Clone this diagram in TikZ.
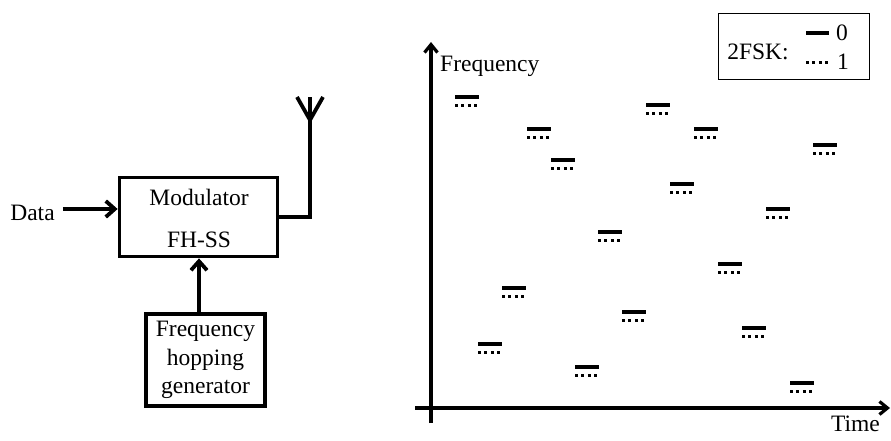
\documentclass[tikz,border=0pt]{standalone}
\usepackage{fontspec}
\setmainfont{Liberation Serif}
\usetikzlibrary{arrows.meta}
\begin{document}
\begin{tikzpicture}[x=1pt,y=-1pt,
  font=\fontsize{23.5}{27}\selectfont,
  txt/.style={inner sep=0pt},
  blk/.style={draw, line width=3.8pt, inner sep=0pt},
  conn/.style={line width=3.8pt, -{Straight Barb[length=9pt,width=16pt]}},
  wire/.style={line width=3.8pt},
  axis/.style={line width=3.2pt, -{Straight Barb[length=8pt,width=13pt]}},
  solidmark/.style={line width=3.4pt},
  dotmark/.style={line width=3pt, dash pattern=on 3pt off 3.4pt}]
\useasboundingbox (0,0) rectangle (891,441);
% left block diagram
\node[blk, minimum width=158pt, minimum height=79pt] (mod) at (198.5,217) {};
\node[txt] (modt) at (199,197) {Modulator};
\node[txt] (fhss) at (199,240) {FH-SS};
\node[txt] (data) at (32.5,213) {Data};
\draw[conn] (data.east) ++(8pt,4pt) coordinate (din) -- (din -| mod.west);
\node[blk, minimum width=119pt, minimum height=92pt] (gen) at (205.5,360) {};
\node[txt, align=center, font=\fontsize{23.5}{28.5}\selectfont] (gent) at (205.5,360) {Frequency\\hopping\\generator};
\draw[conn] ([xshift=-6.5pt]gen.north) -- ([xshift=-6.5pt]gen.north |- mod.south);
\coordinate (ant) at (310,120);
\draw[wire] (mod.east) -| (ant);
\draw[wire, line join=miter] (297,97) -- (ant) -- (323,97);
\draw[wire] (ant) -- (310,97);
% chart
\coordinate (o) at (431,408);
\draw[axis] (415,408) -- (890,408);
\draw[axis] (431,423) -- (431,42);
\node[txt, anchor=west] (flab) at (440,66) {Frequency};
\node[txt] (tlab) at (855.5,424) {Time};
\foreach \x/\y in {455/97,478/344,502/288,527/129,551/160,575/367,598/232,622/312,646/105,670/184,694/129,718/264,742/328,766/209,790/383,813/145}{
  \draw[solidmark] (\x,\y) -- ++(24,0);
  \draw[dotmark] (\x,\y+8.5) -- ++(24,0);
}
% legend
\node[draw, line width=1.2pt, minimum width=151pt, minimum height=66pt] (leg) at (794,46.5) {};
\node[txt] (legt) at (758,52) {2FSK:};
\draw[solidmark] (806,33) -- (829,33);
\draw[dotmark] (806,63) -- (829,63);
\node[txt] (l0) at (842,33) {0};
\node[txt] (l1) at (843,62) {1};
\end{tikzpicture}
\end{document}
